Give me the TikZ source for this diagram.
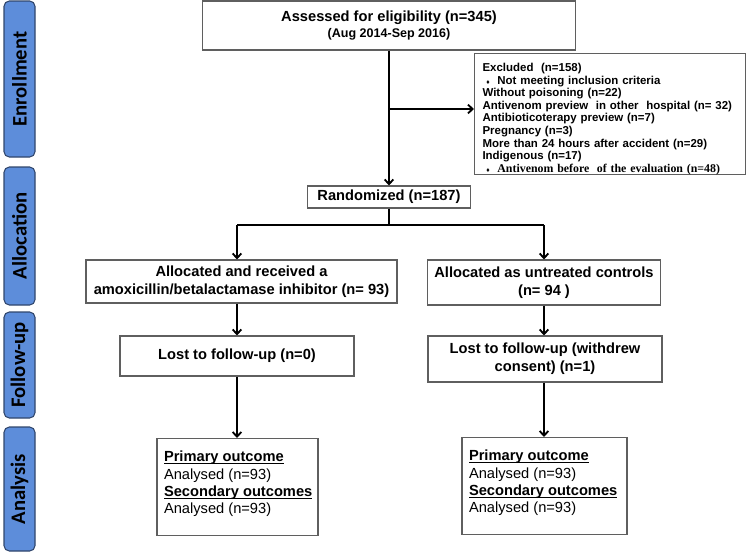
\documentclass[tikz,border=0pt]{standalone}
\usepackage{fontspec}
\setmainfont{Liberation Sans}
\newfontfamily\tabfont{Carlito}
\newfontfamily\timesfont{Liberation Serif}
\usetikzlibrary{arrows.meta}
\definecolor{tabblue}{RGB}{93,141,218}
\definecolor{tabedge}{RGB}{48,70,108}
\definecolor{tabtext}{RGB}{22,26,40}
\definecolor{boxedge}{RGB}{95,95,95}
\newsavebox{\ulbox}
\newcommand{\ulhead}[1]{\sbox{\ulbox}{\bfseries #1}\rlap{\rule[-2pt]{\wd\ulbox}{0.8pt}}\usebox{\ulbox}}
\newcommand{\outcomes}[1]{\parbox[c][72.75pt][t]{#1}{\fontsize{11}{13.1}\selectfont
    \rule{0pt}{17.25pt}\ulhead{Primary outcome}\\Analysed (n=93)\\
    \ulhead{Secondary outcomes}\\Analysed (n=93)}}

\begin{document}
\begin{tikzpicture}[x=0.75pt, y=-0.75pt,
        box/.style={draw=boxedge, line width=0.8pt, align=center, inner sep=0pt,
            font=\bfseries\fontsize{11}{13.5}\selectfont},
        listbox/.style={draw=boxedge, line width=0.8pt, align=left, inner xsep=6pt, inner ysep=0pt,
            font=\bfseries\fontsize{8.6}{9.45}\selectfont},
        outbox/.style={draw=boxedge, line width=0.8pt, inner xsep=5.25pt, inner ysep=0pt, anchor=north},
        tab/.style={draw=tabedge, fill=tabblue, line width=0.8pt, rounded corners=4pt,
            minimum width=23.25pt, inner sep=0pt, text=tabtext},
        tablabel/.style={rotate=90, font=\tabfont\bfseries\fontsize{15.5}{15.5}\selectfont},
        arr/.style={-{Straight Barb[length=3.5pt,width=6.5pt]}, line width=1.4pt}]
    \useasboundingbox (0,0) rectangle (746,558);

    \node[tab, minimum height=117pt] (enroll) at (19.5,79) {};
    \node[tab, minimum height=103.5pt] (alloc) at (19.5,236) {};
    \node[tab, minimum height=79.5pt] (follow) at (19.5,365) {};
    \node[tab, minimum height=93pt] (analys) at (19.5,489) {};
    \node[tablabel] at (enroll) {Enrollment};
    \node[tablabel] at (alloc) {Allocation};
    \node[tablabel] at (follow) {Follow-up};
    \node[tablabel] at (analys) {Analysis};

    \node[box, minimum width=279.75pt, minimum height=36.75pt] (assess) at (389,25.5)
        {Assessed for eligibility (n=345)\\[-2pt]{\fontsize{9.4}{11}\selectfont (Aug 2014-Sep 2016)}};
    \node[listbox, text width=191.25pt, anchor=north west, text height=13.5pt, text depth=77.25pt] (excl) at (474,53)
        {Excluded\ \ (n=158)\\
        \ {\tiny ♦}\ \ Not meeting inclusion criteria\\
        Without poisoning (n=22)\\
        Antivenom preview\ \ in other\ \ hospital (n= 32)\\
        Antibioticoterapy preview (n=7)\\
        Pregnancy (n=3)\\
        More than 24 hours after accident (n=29)\\
        Indigenous (n=17)\\
        \ {\tiny ♦}\ \ {\timesfont\fontsize{8.9}{9.45}\selectfont Antivenom before\ \ of the evaluation (n=48)}};
    \node[box, minimum width=122.25pt, minimum height=16.5pt] (rand) at (389,197) {Randomized (n=187)};

    \node[box, minimum width=233.25pt, minimum height=32.25pt] (allocL) at (241.5,281.5)
        {Allocated and received a\\amoxicillin/betalactamase inhibitor (n= 93)};
    \node[box, minimum width=174.75pt, minimum height=33.75pt] (allocR) at (544,282.5)
        {Allocated as untreated controls\\(n= 94 )};

    \node[box, minimum width=175.5pt, minimum height=30pt] (lostL) at (237,356) {Lost to follow-up (n=0)};
    \node[box, minimum width=175.5pt, minimum height=34.5pt] (lostR) at (545,359)
        {Lost to follow-up (withdrew\\consent) (n=1)};

    \node[outbox] (anaL) at (237.5,438) {\outcomes{110.25pt}};
    \node[outbox] (anaR) at (544.5,437) {\outcomes{113.25pt}};

    \coordinate (exclsplit) at (389,109);
    \coordinate (randsplit) at (389,225);
    \coordinate (leftarm) at (237,225);
    \coordinate (rightarm) at (544,225);

    \draw[arr] (assess.south) -- (rand.north);
    \draw[arr] (exclsplit) -- (exclsplit -| excl.west);
    \draw[line width=1.4pt] (rand.south) -- (randsplit);
    \draw[line width=1.4pt] (leftarm) -- (rightarm);
    \draw[arr] (leftarm) -- (leftarm |- allocL.north);
    \draw[arr] (rightarm) -- (rightarm |- allocR.north);
    \draw[arr] (leftarm |- allocL.south) -- (leftarm |- lostL.north);
    \draw[arr] (leftarm |- lostL.south) -- (leftarm |- anaL.north);
    \draw[arr] (rightarm |- allocR.south) -- (rightarm |- lostR.north);
    \draw[arr] (rightarm |- lostR.south) -- (rightarm |- anaR.north);
\end{tikzpicture}
\end{document}
